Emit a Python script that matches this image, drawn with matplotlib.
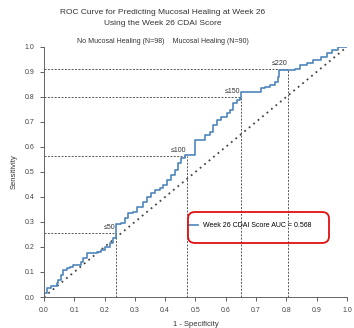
import matplotlib
matplotlib.use("Agg")
import matplotlib.pyplot as plt
from matplotlib.patches import FancyBboxPatch

# ROC curve vertices (1 - specificity, sensitivity)
fpr = [0.0, 0.0, 0.009, 0.025, 0.042, 0.047, 0.058, 0.064, 0.075, 0.086, 0.097,
       0.113, 0.124, 0.13, 0.141, 0.163, 0.174, 0.19, 0.2, 0.218, 0.229, 0.238,
       0.256, 0.267, 0.278, 0.295, 0.306, 0.328, 0.339, 0.355, 0.366, 0.383,
       0.394, 0.405, 0.421, 0.432, 0.443, 0.454, 0.465, 0.498, 0.526, 0.531,
       0.548, 0.559, 0.57, 0.586, 0.603, 0.614, 0.625, 0.636, 0.647, 0.652,
       0.713, 0.718, 0.729, 0.746, 0.762, 0.773, 0.777, 0.828, 0.845, 0.867,
       0.889, 0.916, 0.933, 0.95, 0.971, 1.0]
tpr = [0.0, 0.015, 0.035, 0.044, 0.055, 0.068, 0.088, 0.108, 0.115, 0.121, 0.128,
       0.128, 0.141, 0.155, 0.175, 0.175, 0.181, 0.188, 0.201, 0.215, 0.235, 0.29,
       0.295, 0.315, 0.335, 0.341, 0.361, 0.381, 0.401, 0.415, 0.428, 0.435,
       0.448, 0.468, 0.488, 0.508, 0.535, 0.555, 0.568, 0.628, 0.628, 0.648,
       0.661, 0.688, 0.708, 0.721, 0.735, 0.748, 0.775, 0.788, 0.795, 0.821,
       0.821, 0.835, 0.841, 0.848, 0.861, 0.881, 0.908, 0.911, 0.928, 0.935,
       0.948, 0.961, 0.975, 0.988, 1.0, 1.0]

# cut points on the CDAI score
cut_labels = ["\u226450", "\u2264100", "\u2264150", "\u2264220"]
cut_x = [0.237, 0.472, 0.65, 0.805]
cut_y = [0.255, 0.565, 0.80, 0.91]

ticks = [0.0, 0.1, 0.2, 0.3, 0.4, 0.5, 0.6, 0.7, 0.8, 0.9, 1.0]
auc_label = "Week 26 CDAI Score AUC = 0.568"

plt.rcParams["font.family"] = ["Liberation Sans", "DejaVu Sans"]
grey = "#555555"
blue = "#4f86bd"

fig = plt.figure(figsize=(3.54, 3.28), dpi=100)
ax = fig.add_axes([0.124, 0.0945, 0.856, 0.7625])

ax.plot([0, 1], [0, 1], color="#444444", linestyle=(0, (1, 2.2)), lw=1.3)
for xc, yc, lab in zip(cut_x, cut_y, cut_labels):
    ax.plot([0, xc], [yc, yc], color=grey, linestyle=(0, (2, 1.5)), lw=0.7)
    ax.plot([xc, xc], [0, yc], color=grey, linestyle=(0, (2, 1.5)), lw=0.7)
    ax.text(xc - 0.002, yc + 0.008, lab, ha="right", va="bottom",
            fontsize=5, color="#333333")

ax.plot(fpr, tpr, drawstyle="steps-post", color=blue, lw=1.2, label=auc_label)

ax.set_xlim(0, 1.0)
ax.set_ylim(0, 1.0)
ax.set_xticks(ticks)
ax.set_yticks(ticks)
ax.set_xticklabels([f"{t:.1f}" for t in ticks])
ax.set_yticklabels([f"{t:.1f}" for t in ticks])
ax.tick_params(labelsize=5, colors="#444444", length=3, width=0.6, pad=4)
for s in ("top", "right"):
    ax.spines[s].set_visible(False)
for s in ("left", "bottom"):
    ax.spines[s].set_color("#666666")
    ax.spines[s].set_linewidth(0.7)
ax.set_xlabel("1 - Specificity", fontsize=5.5, color="#333333", labelpad=5)
ax.set_ylabel("Sensitivity", fontsize=5.5, color="#333333", labelpad=5)

ax.legend(loc="center left", bbox_to_anchor=(0.455, 0.284), frameon=False,
          fontsize=5, handlelength=1.5, handletextpad=0.6)

# red rounded box around the legend
fig.patches.append(FancyBboxPatch((188 / 354, 1 - 243 / 328), 141 / 354, 31 / 328,
                                  boxstyle="round,pad=0,rounding_size=0.02",
                                  transform=fig.transFigure, fill=False,
                                  edgecolor="#e01010", lw=1.3))

fig.text(0.46, 0.962, "ROC Curve for Predicting Mucosal Healing at Week 26",
         ha="center", va="center", fontsize=6, color="#333333")
fig.text(0.46, 0.928, "Using the Week 26 CDAI Score",
         ha="center", va="center", fontsize=6, color="#333333")
fig.text(0.46, 0.872, "No Mucosal Healing (N=98)    Mucosal Healing (N=90)",
         ha="center", va="center", fontsize=5, color="#333333")

fig.savefig("out.png", dpi=100, facecolor="white")
